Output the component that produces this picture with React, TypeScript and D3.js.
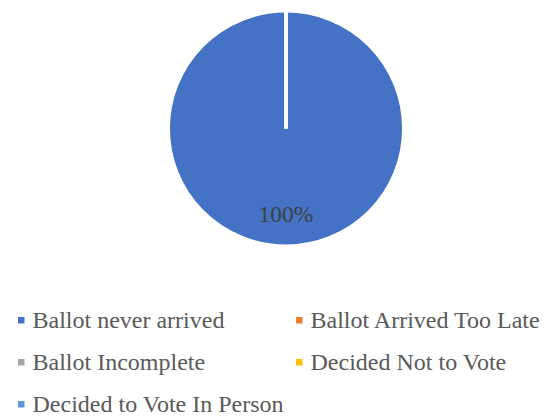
import React from "react";
import * as d3 from "d3";

const categories = [
  "Ballot never arrived",
  "Ballot Arrived Too Late",
  "Ballot Incomplete",
  "Decided Not to Vote",
  "Decided to Vote In Person",
];
const values = [100, 0, 0, 0, 0];
const colors = ["#4472C4", "#ED7D31", "#A5A5A5", "#FFC000", "#5B9BD5"];

const W = 560;
const H = 416;
const cx = 286;
const cy = 128.5;
const R = 117.5;
const font = "Liberation Serif";

export default function App() {
  const total = d3.sum(values);
  const pie = d3.pie<number>().sort(null).value((d) => d)(values);
  const arc = d3.arc<d3.PieArcDatum<number>>().innerRadius(0).outerRadius(R);
  const labelArc = d3.arc<d3.PieArcDatum<number>>().innerRadius(R * 0.73).outerRadius(R * 0.73);

  const legendPos = categories.map((_, i) => ({
    x: i % 2 === 0 ? 18 : 296,
    y: 320 + Math.floor(i / 2) * 42,
  }));

  return (
    <svg width={W} height={H} style={{ position: "absolute", left: 0, top: 0, background: "#fff" }}>
      <g transform={`translate(${cx},${cy})`}>
        {pie.map((p, i) => (
          <path key={i} d={arc(p) || ""} fill={colors[i]} stroke="#fff" strokeWidth={3} />
        ))}
        {pie.map((p, i) => {
          if (values[i] === 0) return null;
          const mid = { ...p, startAngle: Math.PI, endAngle: Math.PI };
          const [lx, ly] = labelArc.centroid(mid as any);
          return (
            <text key={"l" + i} x={lx} y={ly} textAnchor="middle" dominantBaseline="central"
              style={{ fontFamily: font, fontSize: 23.5 }} fill="#404040">
              {Math.round((values[i] / total) * 100) + "%"}
            </text>
          );
        })}
      </g>
      {categories.map((c, i) => (
        <g key={c}>
          <rect x={legendPos[i].x} y={legendPos[i].y - 3} width={6.5} height={6.5} fill={colors[i]} />
          <text x={legendPos[i].x + 14.5} y={legendPos[i].y + 7.5}
            style={{ fontFamily: font, fontSize: 24 }} fill="#595959">
            {c}
          </text>
        </g>
      ))}
    </svg>
  );
}
